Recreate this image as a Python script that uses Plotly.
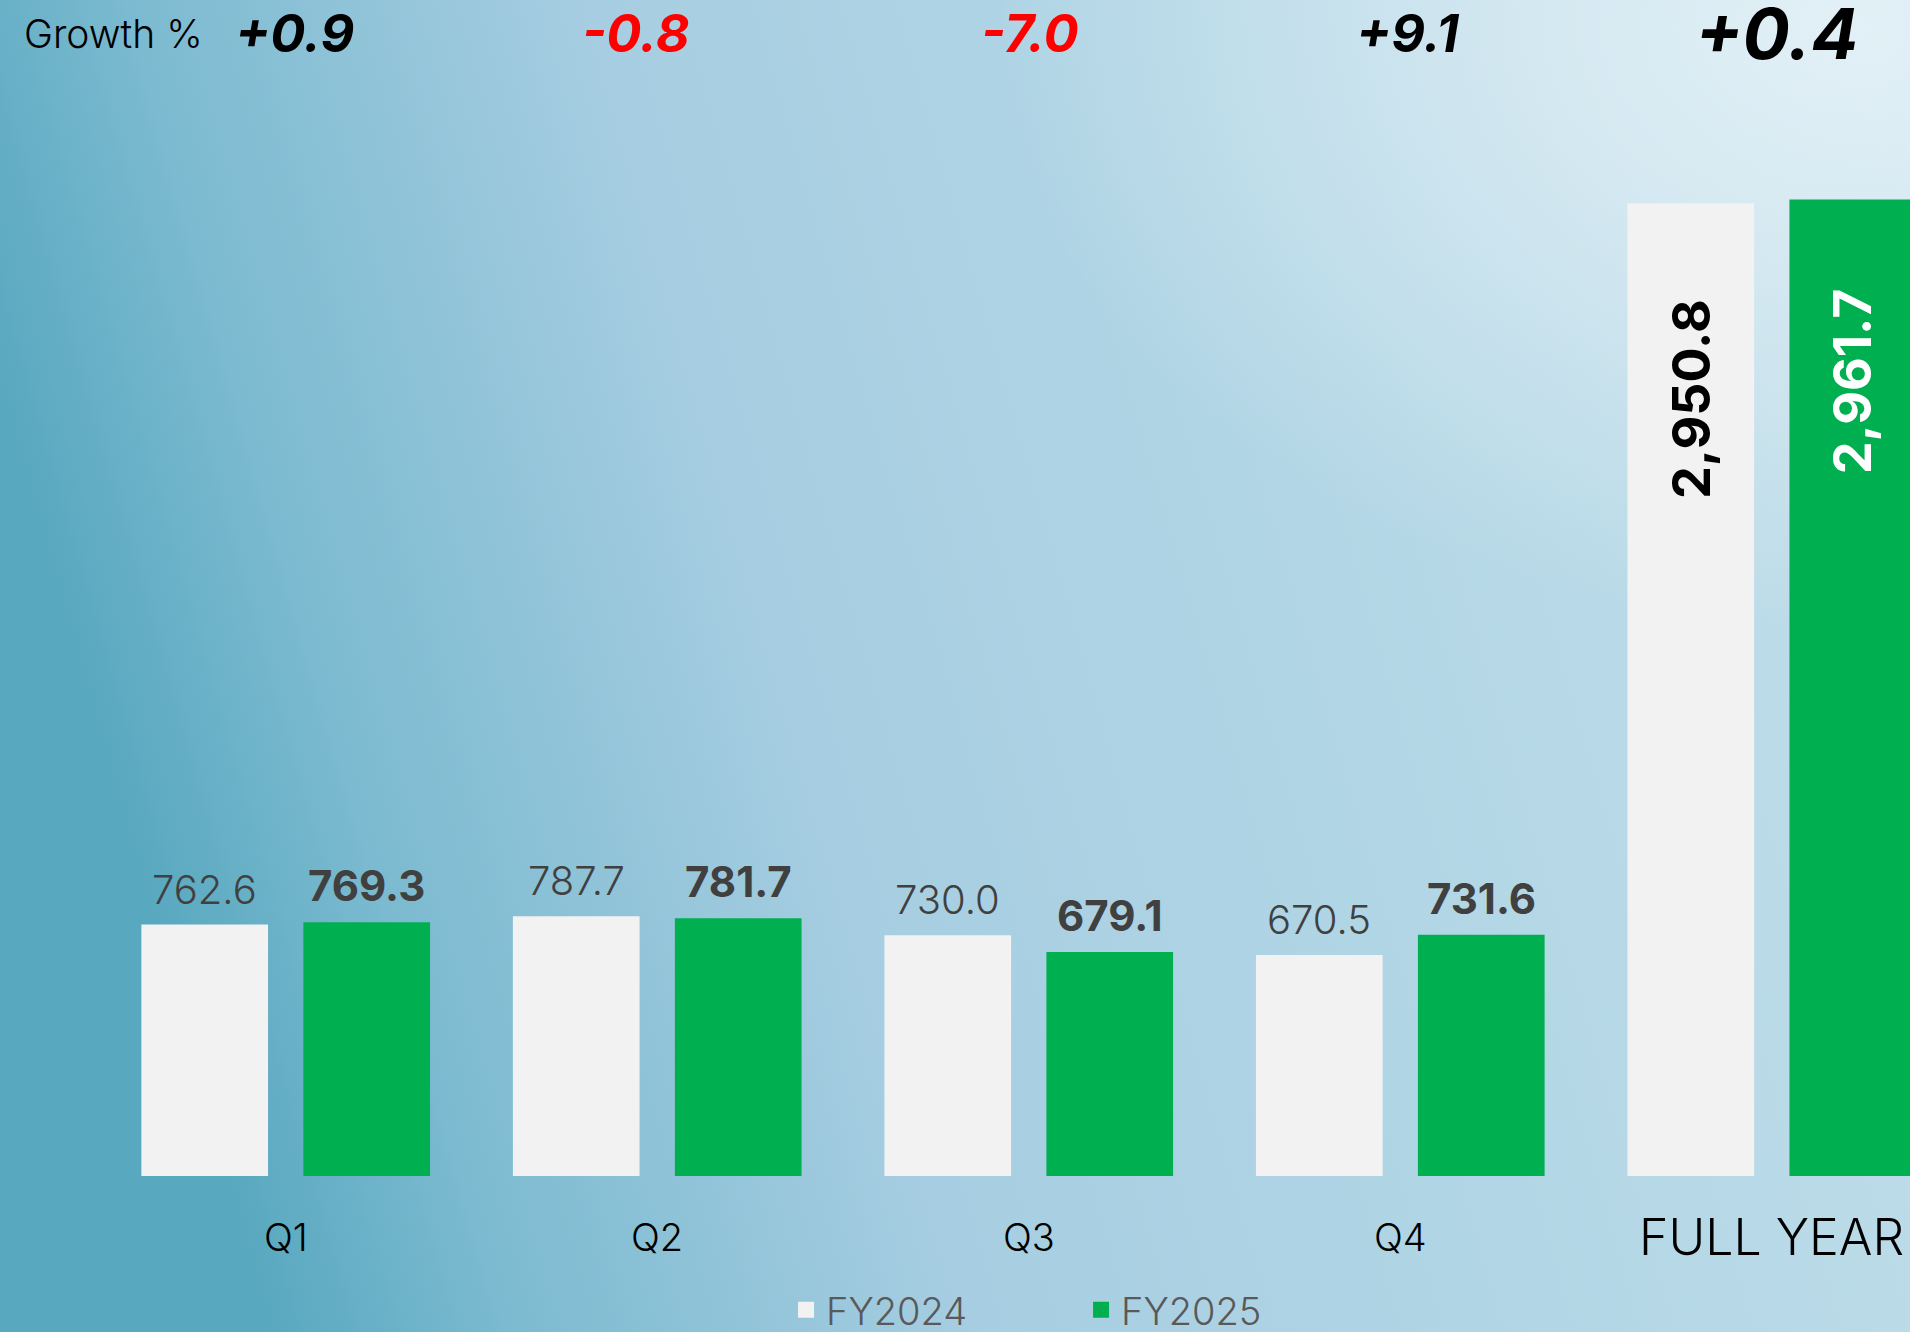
import base64
import plotly.graph_objects as go

# ---- data ----
categories = ["Q1", "Q2", "Q3", "Q4", "FULL YEAR"]
fy2024 = [762.6, 787.7, 730.0, 670.5, 2950.8]
fy2025 = [769.3, 781.7, 679.1, 731.6, 2961.7]
growth = ["+0.9", "-0.8", "-7.0", "+9.1", "+0.4"]
series_names = ["FY2024", "FY2025"]

# ---- style ----
W, H = 1910, 1332
C24 = "#f2f2f2"
C25 = "#00b050"
BAR_W = 0.341
GAP = 0.095
FONT = "Inter, Lato, sans-serif"
growth_xshift = [10, -21, 1, 7, 5]

xs = list(range(len(categories)))
off24 = -(BAR_W + GAP / 2)
off25 = GAP / 2

svg = f'''<svg xmlns="http://www.w3.org/2000/svg" width="{W}" height="{H}" preserveAspectRatio="none">
<defs>
<linearGradient id="g" x1="0" y1="0.3" x2="1" y2="0.1">
<stop offset="0" stop-color="#58a8bf"/>
<stop offset="0.12" stop-color="#7bbad0"/>
<stop offset="0.35" stop-color="#a6cde1"/>
<stop offset="0.6" stop-color="#b0d5e5"/>
<stop offset="1" stop-color="#c3dfea"/>
</linearGradient>
<radialGradient id="r" cx="0.97" cy="0.02" r="0.45">
<stop offset="0" stop-color="#e4f1f7" stop-opacity="0.95"/>
<stop offset="1" stop-color="#e4f1f7" stop-opacity="0"/>
</radialGradient>
</defs>
<rect width="{W}" height="{H}" fill="url(#g)"/>
<rect width="{W}" height="{H}" fill="url(#r)"/>
</svg>'''
src = "data:image/svg+xml;base64," + base64.b64encode(svg.encode()).decode()

fig = go.Figure()
fig.add_trace(go.Bar(x=xs, y=fy2024, name=series_names[0], marker_color=C24,
                     offset=off24, width=BAR_W, marker_line_width=0, showlegend=False))
fig.add_trace(go.Bar(x=xs, y=fy2025, name=series_names[1], marker_color=C25,
                     offset=off25, width=BAR_W, marker_line_width=0, showlegend=False))
# legend entries with larger square swatches
for nm, col in zip(series_names, [C24, C25]):
    fig.add_trace(go.Scatter(x=[None], y=[None], mode="markers", name=nm,
                             marker=dict(symbol="square", size=21, color=col, line_width=0)))

ann = []
for i, (a, b) in enumerate(zip(fy2024, fy2025)):
    if categories[i] == "FULL YEAR":
        ann.append(dict(x=i + off24 + BAR_W / 2, y=a, text=f"<b>{a:,.1f}</b>", textangle=-90,
                        showarrow=False, xanchor="center", yanchor="top", yshift=-94,
                        font=dict(family=FONT, size=52, color="#000000")))
        ann.append(dict(x=i + off25 + BAR_W / 2, y=b, text=f"<b>{b:,.1f}</b>", textangle=-90,
                        showarrow=False, xanchor="center", yanchor="top", yshift=-87,
                        font=dict(family=FONT, size=52, color="#ffffff")))
    else:
        ann.append(dict(x=i + off24 + BAR_W / 2, y=a, text=f"{a:,.1f}", showarrow=False,
                        xanchor="center", yanchor="bottom", yshift=9,
                        font=dict(family=FONT, size=40, color="#404040", weight=300)))
        ann.append(dict(x=i + off25 + BAR_W / 2, y=b, text=f"<b>{b:,.1f}</b>", showarrow=False,
                        xanchor="center", yanchor="bottom", yshift=9,
                        font=dict(family=FONT, size=42, color="#404040")))
    # category labels
    ann.append(dict(x=i, y=0, text=categories[i], showarrow=False, xanchor="center",
                    yanchor="middle", yshift=-61,
                    font=dict(family=FONT, size=50 if categories[i] == "FULL YEAR" else 38,
                              color="#000000", weight=300)))
    # growth row
    g = growth[i]
    ann.append(dict(x=i, xref="x", y=1.0502, yref="paper", text=f"<b><i>{g}</i></b>",
                    showarrow=False, xanchor="center", yanchor="middle", xshift=growth_xshift[i],
                    font=dict(family=FONT, size=70 if categories[i] == "FULL YEAR" else 52,
                              color="#ff0000" if g.startswith("-") else "#000000")))

ann.append(dict(x=22 / W, xref="paper", y=1.0502, yref="paper", text="Growth %", showarrow=False,
                xanchor="left", yanchor="middle",
                font=dict(family=FONT, size=39, color="#000000", weight=300)))

fig.update_layout(
    width=W, height=H,
    margin=dict(l=0, r=0, t=88, b=156, autoexpand=False),
    paper_bgcolor="#a6cde1",
    plot_bgcolor="rgba(0,0,0,0)",
    barmode="group",
    xaxis=dict(range=[-0.769, 4.372], visible=False, fixedrange=True),
    yaxis=dict(range=[0, 3300], visible=False, fixedrange=True),
    showlegend=True,
    legend=dict(orientation="h", x=0.566, xanchor="center", y=-0.1232, yanchor="middle",
                font=dict(family=FONT, size=38, color="#595959", weight=300),
                bgcolor="rgba(0,0,0,0)", entrywidth=250, entrywidthmode="pixels",
                traceorder="normal", itemsizing="trace"),
    annotations=ann,
    images=[dict(source=src, xref="paper", yref="paper", x=0, y=1 + 88 / 1088,
                 sizex=1, sizey=1332 / 1088, sizing="stretch", layer="below",
                 xanchor="left", yanchor="top")],
)

fig.write_html("out.html", config={"displayModeBar": False},
               post_script="document.body.style.margin='0';document.body.style.overflow='hidden';")
